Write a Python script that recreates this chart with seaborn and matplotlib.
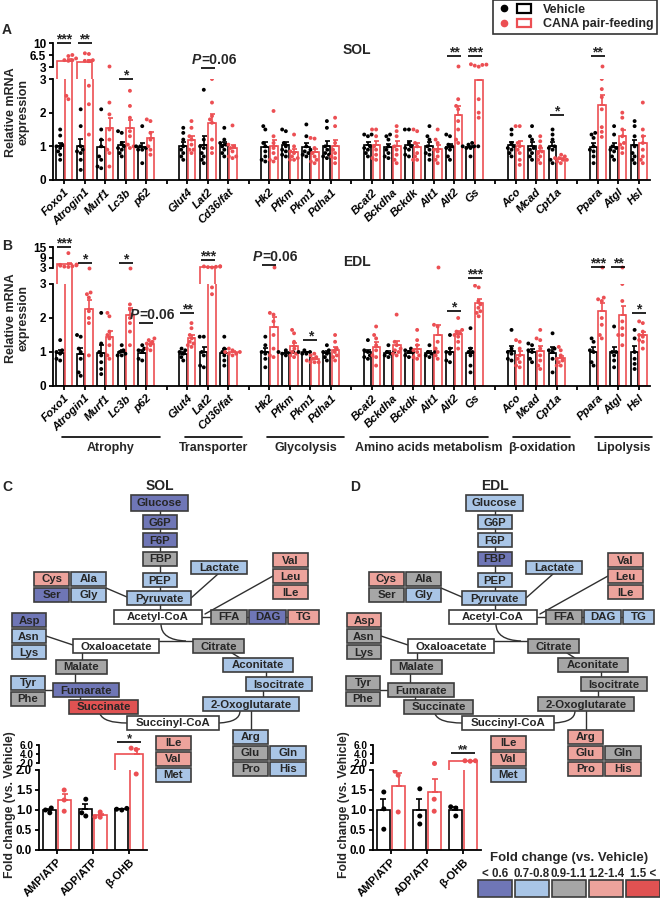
import matplotlib
matplotlib.use("Agg")
import matplotlib.pyplot as plt
import matplotlib.transforms as mtrans
from matplotlib.patches import Rectangle, PathPatch
from matplotlib.path import Path
from matplotlib.lines import Line2D
from matplotlib.legend_handler import HandlerTuple
import pandas as pd
import seaborn as sns

# ---------------------------------------------------------------- data
GROUPS = ["Vehicle", "CANA pair-feeding"]

CATEGORY_NAMES = ["Atrophy", "Transporter", "Glycolysis",
                  "Amino acids metabolism", "β-oxidation", "Lipolysis"]
CATEGORY_GENES = [["Foxo1", "Atrogin1", "Murf1", "Lc3b", "p62"],
                  ["Glut4", "Lat2", "Cd36/fat"],
                  ["Hk2", "Pfkm", "Pkm1", "Pdha1"],
                  ["Bcat2", "Bckdha", "Bckdk", "Alt1", "Alt2", "Gs"],
                  ["Aco", "Mcad", "Cpt1a"],
                  ["Ppara", "Atgl", "Hsl"]]
GENES = [g for grp in CATEGORY_GENES for g in grp]

sol_vehicle_pts = [
    [1.5, 1.32, 1.05, 1.0, 0.95, 0.85, 0.75, 0.6],
    [2.1, 1.6, 1.0, 0.9, 0.85, 0.8, 0.6, 0.3],
    [2.1, 1.5, 1.2, 1.0, 0.7, 0.6, 0.4, 0.35],
    [1.45, 1.4, 1.1, 1.0, 0.95, 0.9, 0.8, 0.7],
    [1.6, 1.0, 1.0, 0.95, 0.9, 0.9, 0.5],
    [1.55, 1.4, 1.2, 1.0, 0.9, 0.8, 0.7, 0.6],
    [2.68, 1.2, 1.0, 0.95, 0.8, 0.7, 0.6, 0.5],
    [1.55, 1.2, 1.1, 1.05, 1.0, 0.9, 0.8, 0.7],
    [1.6, 1.5, 1.1, 1.0, 0.85, 0.7, 0.6, 0.55],
    [1.5, 1.45, 1.1, 1.0, 0.9, 0.85, 0.75, 0.7],
    [1.65, 1.3, 1.0, 0.9, 0.85, 0.8, 0.75, 0.7],
    [1.75, 1.55, 1.0, 0.9, 0.8, 0.75, 0.7, 0.65],
    [1.35, 1.35, 1.3, 1.0, 0.95, 0.9, 0.8, 0.7],
    [1.35, 1.3, 1.2, 1.0, 0.9, 0.8, 0.7, 0.65],
    [1.5, 1.5, 1.1, 1.0, 0.95, 0.9, 0.75, 0.7],
    [1.6, 1.3, 1.2, 1.0, 0.9, 0.8, 0.75, 0.6],
    [1.35, 1.3, 1.05, 1.0, 0.95, 0.9, 0.7, 0.6],
    [1.1, 1.05, 1.0, 1.0, 1.0, 0.95, 0.95, 0.7],
    [1.5, 1.35, 1.1, 1.0, 0.95, 0.9, 0.8, 0.7],
    [1.6, 1.3, 1.2, 0.95, 0.9, 0.8, 0.7, 0.6],
    [1.5, 1.35, 1.2, 1.0, 0.95, 0.9, 0.6, 0.5],
    [1.4, 1.35, 1.25, 1.0, 0.9, 0.85, 0.7, 0.5],
    [1.6, 1.35, 1.0, 0.95, 0.9, 0.85, 0.7, 0.6],
    [1.75, 1.6, 1.3, 1.0, 0.8, 0.7, 0.6, 0.5],
]
sol_cana_pts = [
    [6.5, 6.2, 5.5, 5.0, 5.0, 4.8, 2.5, 2.4],
    [7.0, 6.8, 5.0, 4.8, 4.7, 2.8, 2.25, 1.35],
    [3.2, 2.3, 1.95, 1.5, 1.2, 0.9, 0.8, 0.4],
    [2.65, 2.2, 1.85, 1.45, 1.3, 1.05, 1.0, 0.95],
    [1.8, 1.75, 1.4, 1.2, 1.0, 0.9, 0.75],
    [1.75, 1.55, 1.3, 1.2, 1.05, 0.9, 0.9, 0.8],
    [3.0, 2.3, 1.9, 1.8, 1.7, 1.2, 0.95, 0.8],
    [1.62, 1.05, 1.0, 0.95, 0.85, 0.7, 0.65, 0.7],
    [2.05, 1.3, 1.1, 0.95, 0.8, 0.65, 0.6, 0.55],
    [1.35, 1.0, 0.85, 0.8, 0.7, 0.65, 0.6, 0.6],
    [1.25, 1.23, 0.95, 0.8, 0.7, 0.6, 0.55, 0.5],
    [1.85, 1.6, 1.1, 0.9, 0.8, 0.7, 0.65, 0.5],
    [1.5, 1.5, 1.3, 1.0, 0.9, 0.75, 0.65, 0.6],
    [1.6, 1.45, 1.3, 1.0, 0.9, 0.75, 0.6, 0.5],
    [1.5, 1.45, 1.1, 1.0, 0.8, 0.7, 0.6, 0.6],
    [1.5, 1.2, 1.1, 0.9, 0.85, 0.7, 0.6, 0.5],
    [3.3, 2.4, 2.2, 2.1, 1.75, 1.5, 1.2, 1.1],
    [3.8, 3.7, 3.6, 3.4, 3.1, 2.4, 2.0, 1.85],
    [1.6, 1.6, 1.1, 1.0, 0.9, 0.8, 0.6, 0.45],
    [1.3, 1.15, 1.0, 0.85, 0.8, 0.7, 0.6, 0.5],
    [0.75, 0.7, 0.65, 0.65, 0.6, 0.6, 0.55, 0.5],
    [3.4, 3.0, 2.7, 2.46, 2.1, 1.57, 1.43, 1.28],
    [2.0, 1.85, 1.5, 1.3, 1.1, 1.05, 0.95, 0.8],
    [2.3, 1.5, 1.3, 1.1, 0.9, 0.7, 0.6, 0.5],
]
edl_vehicle_pts = [
    [1.35, 1.05, 1.0, 0.95, 0.8, 0.75],
    [1.5, 1.45, 1.1, 1.0, 0.8, 0.4, 0.3],
    [2.15, 1.25, 1.0, 0.9, 0.7, 0.5, 0.35],
    [1.2, 1.05, 1.0, 0.95, 0.9, 0.9],
    [1.2, 1.1, 1.05, 1.0, 0.8, 0.75],
    [1.1, 1.05, 1.0, 0.95, 0.85, 0.75],
    [1.45, 1.45, 1.0, 0.9, 0.6, 0.55],
    [1.45, 1.1, 1.0, 0.9, 0.75, 0.6],
    [1.45, 1.2, 1.0, 0.95, 0.8, 0.55],
    [1.05, 1.0, 1.0, 0.95, 0.95, 0.9],
    [1.05, 1.0, 1.0, 0.95, 0.95],
    [1.2, 1.05, 1.0, 0.95, 0.85, 0.75],
    [1.35, 1.05, 1.0, 0.9, 0.85, 0.8],
    [1.2, 1.0, 1.0, 0.95, 0.9, 0.85],
    [1.1, 1.05, 1.0, 1.0, 0.9, 0.85],
    [1.2, 1.0, 1.0, 0.95, 0.9, 0.85],
    [1.5, 1.1, 1.0, 0.95, 0.75, 0.7],
    [1.7, 1.1, 1.0, 1.0, 0.9, 0.6, 0.4],
    [1.65, 1.1, 1.0, 0.95, 0.8, 0.75],
    [1.25, 1.2, 1.05, 1.0, 0.8, 0.7],
    [1.55, 1.1, 1.05, 1.0, 0.8, 0.4],
    [1.4, 1.3, 1.05, 1.0, 0.7, 0.6],
    [1.75, 1.0, 1.0, 0.9, 0.75, 0.55],
    [1.65, 1.4, 1.0, 0.8, 0.65, 0.5],
]
edl_cana_pts = [
    [11.5, 5.0, 4.8, 4.5, 4.3, 4.0, 3.8, 3.6],
    [3.2, 2.75, 2.7, 2.6, 2.2, 2.0, 1.85, 0.9],
    [2.15, 2.05, 1.6, 1.5, 1.4, 1.2, 0.9, 0.8],
    [3.2, 2.4, 2.25, 2.1, 2.0, 1.85, 1.6, 1.2],
    [1.4, 1.35, 1.3, 1.25, 1.2, 1.1, 1.05],
    [1.85, 1.7, 1.5, 1.4, 1.3, 1.2, 1.15, 1.25],
    [4.0, 3.9, 3.8, 3.7, 3.5, 3.3, 2.9, 2.7],
    [1.1, 1.05, 1.0, 1.0, 0.95, 0.95, 0.9],
    [3.3, 2.15, 2.1, 1.9, 1.5, 1.1, 0.9, 0.85],
    [1.65, 1.55, 1.3, 1.1, 1.0, 0.95, 0.85, 0.9],
    [0.95, 0.9, 0.85, 0.8, 0.75, 0.7, 0.7, 0.7],
    [1.5, 1.3, 1.1, 1.0, 0.9, 0.85, 0.75],
    [1.75, 1.5, 1.4, 1.2, 1.05, 0.9, 0.85, 0.6],
    [2.1, 1.3, 1.2, 1.1, 1.05, 1.0, 0.9, 0.95],
    [1.65, 1.35, 1.2, 1.05, 1.0, 0.9, 0.8, 0.85],
    [3.3, 1.8, 1.75, 1.3, 1.1, 1.0, 0.9, 0.8],
    [2.0, 1.65, 1.6, 1.55, 1.5, 1.45, 1.3, 1.1],
    [2.95, 2.9, 2.5, 2.4, 2.3, 2.2, 2.15, 2.05],
    [1.35, 1.3, 1.1, 0.9, 0.8, 0.7, 0.6, 0.55],
    [1.65, 1.4, 1.35, 1.1, 0.9, 0.75, 0.6, 0.5],
    [1.15, 1.05, 0.9, 0.8, 0.75, 0.7, 0.6, 0.6],
    [3.3, 2.6, 2.55, 2.5, 2.0, 1.8, 1.5, 1.4],
    [3.35, 3.0, 2.5, 1.9, 1.7, 1.5, 1.5, 1.2],
    [1.9, 1.85, 1.6, 1.5, 1.45, 1.35, 1.3, 1.1],
]
# significance marks: (gene, label, y level in data units, 'lo'/'hi' axis)
sol_sig = [("Foxo1", "***", 10.0, "hi"), ("Atrogin1", "**", 10.0, "hi"),
           ("Lc3b", "*", 3.0, "lo"), ("Lat2", "P=0.06", 2.7, "hi"),
           ("Alt2", "**", 6.2, "hi"), ("Gs", "***", 6.2, "hi"),
           ("Cpt1a", "*", 1.93, "lo"), ("Ppara", "**", 6.2, "hi")]
edl_sig = [("Foxo1", "***", 15.0, "hi"), ("Atrogin1", "*", 5.9, "hi"),
           ("Lc3b", "*", 5.9, "hi"), ("p62", "P=0.06", 1.85, "lo"),
           ("Glut4", "**", 2.15, "lo"), ("Lat2", "***", 7.6, "hi"),
           ("Hk2", "P=0.06", 4.7, "hi"), ("Pkm1", "*", 1.35, "lo"),
           ("Alt2", "*", 2.2, "lo"), ("Gs", "***", 3.18, "lo"),
           ("Ppara", "***", 3.45, "hi"), ("Atgl", "**", 3.45, "hi"),
           ("Hsl", "*", 2.15, "lo")]

ENERGY_ITEMS = ["AMP/ATP", "ADP/ATP", "β-OHB"]
sol_energy_vehicle = [[1.05, 0.93, 1.0], [1.27, 0.93, 0.85], [1.0, 1.02, 1.04]]
sol_energy_cana = [[1.5, 1.25, 0.97], [0.95, 0.83, 0.82], [5.3, 5.0, 1.9]]
edl_energy_vehicle = [[1.45, 1.03, 0.52], [1.53, 0.85, 0.65], [1.08, 1.05, 0.85]]
edl_energy_cana = [[1.97, 1.87, 0.95], [2.1, 1.27, 0.97], [2.4, 2.5, 2.5]]
sol_energy_sig = [("β-OHB", "*", 6.67)]
edl_energy_sig = [("β-OHB", "**", 4.2)]

METABOLITES = ["Glucose", "G6P", "F6P", "FBP", "PEP", "Lactate", "Val", "Leu", "ILe",
               "Cys", "Ala", "Ser", "Gly", "Pyruvate", "Acetyl-CoA", "FFA", "DAG", "TG",
               "Asp", "Asn", "Lys", "Oxaloacetate", "Citrate", "Malate", "Aconitate",
               "Tyr", "Phe", "Fumarate", "Isocitrate", "Succinate", "2-Oxoglutarate",
               "Succinyl-CoA", "ILe", "Val", "Met", "Arg", "Glu", "Gln", "Pro", "His"]
# fold-change class: 0 <0.6, 1 0.7-0.8, 2 0.9-1.1, 3 1.2-1.4, 4 1.5<, None = not measured
sol_fc_class = [0, 0, 0, 2, 1, 1, 3, 3, 3, 3, 1, 0, 1, 1, None, 2, 0, 3, 0, 1, 1, None,
                2, 2, 1, 1, 2, 0, 1, 4, 1, None, 3, 3, 1, 1, 2, 1, 2, 1]
edl_fc_class = [1, 1, 1, 0, 1, 1, 3, 3, 3, 3, 2, 2, 1, 1, None, 2, 1, 1, 3, 2, 2, None,
                2, 2, 2, 2, 2, 2, 2, 2, 2, None, 3, 3, 1, 3, 3, 2, 3, 3]
FC_BINS = ["< 0.6", "0.7-0.8", "0.9-1.1", "1.2-1.4", "1.5 <"]

# ---------------------------------------------------------------- style
FC_COLORS = ["#6f76b6", "#a9c5e6", "#a6a6a6", "#eda39c", "#e05252"]
PALETTE = {GROUPS[0]: "#000000", GROUPS[1]: "#ec4f53"}
BOX_EDGE = "#3c3c3c"
BOLD = "bold"

sns.set_theme(style="ticks", rc={
    "axes.facecolor": "none", "axes.edgecolor": "black", "axes.linewidth": 1.3,
    "xtick.color": "black", "ytick.color": "black",
    "xtick.major.width": 1.3, "ytick.major.width": 1.3,
    "xtick.major.size": 3, "ytick.major.size": 3,
    "xtick.major.pad": 2, "ytick.major.pad": 2})
plt.rcParams["font.family"] = ["Liberation Sans", "DejaVu Sans"]
plt.rcParams["font.weight"] = "bold"
plt.rcParams["axes.labelweight"] = "bold"

W, H = 660, 900
fig = plt.figure(figsize=(6.6, 9.0), dpi=100, facecolor="white")


def px_rect(x0, y0, x1, y1):
    return [x0 / W, 1 - y1 / H, (x1 - x0) / W, (y1 - y0) / H]


def long_df(items, veh, cana):
    rows = []
    for item, v, c in zip(items, veh, cana):
        rows += [(item, GROUPS[0], x) for x in v]
        rows += [(item, GROUPS[1], x) for x in c]
    return pd.DataFrame(rows, columns=["item", "group", "value"])


ORDER = []
for i, grp in enumerate(CATEGORY_GENES):
    if i:
        ORDER.append(f"_gap{i}")
    ORDER.extend(grp)


def draw_layer(ax, bdata, pdata, order, width, gap, lw, cap, msize):
    sns.barplot(data=bdata, x="item", y="value", hue="group", order=order,
                hue_order=GROUPS, palette=PALETTE, errorbar=None, width=width,
                gap=gap, fill=False, linewidth=lw, legend=False, ax=ax)
    for p in ax.patches:
        p.set_fill(True)
        p.set_facecolor("white")
        p.set_zorder(1)
    summ = (bdata.groupby(["item", "group"], sort=False)["value"]
            .agg(["mean", "sem"]).reset_index())
    for r in summ.itertuples(index=False):
        off = -width / 4 if r.group == GROUPS[0] else width / 4
        ax.errorbar(order.index(r.item) + off, r.mean, yerr=[[0], [r.sem]],
                    fmt="none", ecolor=PALETTE[r.group], elinewidth=lw,
                    capsize=cap, capthick=lw, zorder=2)
    sns.swarmplot(data=pdata, x="item", y="value", hue="group", order=order,
                  hue_order=GROUPS, palette=PALETTE, dodge=True, size=msize,
                  legend=False, ax=ax, warn_thresh=1, zorder=3, linewidth=0)
    ax.set_xlabel("")
    ax.set_ylabel("")


def broken_plot(lo, hi, df, order, thr, lo_top, hi_lim, xlim,
                width, gap, lw, cap, msize):
    gm = df.groupby(["item", "group"])["value"].transform("mean")
    draw_layer(lo, df, df, order, width, gap, lw, cap, msize)
    draw_layer(hi, df[gm > thr], df[df["value"] > thr], order, width, gap, lw, cap, msize)
    for ax in (lo, hi):
        ax.set_xlim(*xlim)
    lo.set_ylim(0, lo_top)
    hi.set_ylim(*hi_lim)
    y0 = hi_lim[0] - 1
    for p in hi.patches:
        top = p.get_y() + p.get_height()
        p.set_y(y0)
        p.set_height(top - y0)
    sns.despine(ax=lo)
    sns.despine(ax=hi, bottom=True)
    hi.tick_params(axis="x", bottom=False, labelbottom=False)
    hi.spines["left"].set_bounds(thr, hi_lim[1])


def add_sig(ax, x, y, label, half=0.34, fs=10):
    ax.plot([x - half, x + half], [y, y], color="black", lw=1.2,
            clip_on=False, zorder=5, solid_capstyle="butt")
    if label.startswith("P="):
        ax.annotate("P", (x, y), xytext=(-5, 0.5), textcoords="offset points",
                    ha="right", va="bottom", fontsize=fs, fontstyle="italic",
                    fontweight=BOLD, annotation_clip=False)
        ax.annotate(label[1:], (x, y), xytext=(-5, 0.5), textcoords="offset points",
                    ha="left", va="bottom", fontsize=fs, fontweight=BOLD,
                    annotation_clip=False)
    else:
        ax.annotate(label, (x, y), xytext=(0, -2.5), textcoords="offset points",
                    ha="center", va="bottom", fontsize=fs, fontweight=BOLD,
                    annotation_clip=False)


def gene_panel(lo_box, hi_box, veh, cana, thr, hi_lim, hi_ticks, hi_labels, sigs):
    lo = fig.add_axes(px_rect(*lo_box))
    hi = fig.add_axes(px_rect(*hi_box))
    df = long_df(GENES, veh, cana)
    broken_plot(lo, hi, df, ORDER, thr, 3, hi_lim, (-0.55, len(ORDER) - 0.45),
                0.84, 0.12, 1.2, 1.8, 2.8)
    lo.set_yticks([0, 1, 2, 3])
    lo.set_yticklabels(["0", "1", "2", "3"], fontsize=8.5, fontweight=BOLD)
    hi.set_yticks(hi_ticks)
    hi.set_yticklabels(hi_labels, fontsize=8.5, fontweight=BOLD)
    lo.set_xticks(range(len(ORDER)))
    lo.set_xticklabels(["" if s.startswith("_") else s for s in ORDER], rotation=45,
                       ha="right", rotation_mode="anchor", fontsize=8.2,
                       fontstyle="italic", fontweight=BOLD)
    for gene, label, y, which in sigs:
        add_sig(lo if which == "lo" else hi, ORDER.index(gene), y, label)
    return lo, hi


# ---------------------------------------------------------------- panel A / B
loA, hiA = gene_panel((53, 79, 650, 180), (53, 43, 650, 79), sol_vehicle_pts,
                      sol_cana_pts, 3, (-0.5, 10), [3, 6.5, 10], ["3", "6.5", "10"],
                      sol_sig)
loB, hiB = gene_panel((53, 284, 650, 386), (53, 247, 650, 284), edl_vehicle_pts,
                      edl_cana_pts, 3, (3 - 16 * 12 / 21, 15), [3, 9, 15],
                      ["3", "9", "15"], edl_sig)

trB = mtrans.blended_transform_factory(loB.transData, fig.transFigure)
for name, grp in zip(CATEGORY_NAMES, CATEGORY_GENES):
    i0, i1 = ORDER.index(grp[0]) - 0.12, ORDER.index(grp[-1]) + 0.65
    loB.plot([i0, i1], [1 - 437 / H] * 2, transform=trB, clip_on=False,
             color="black", lw=1.2)
    loB.text((i0 + i1) / 2, 1 - 448 / H, name, transform=trB, ha="center",
             va="center", fontsize=9, fontweight=BOLD)

# ---------------------------------------------------------------- energy bars
def energy_panel(x0, veh, cana, sigs):
    lo = fig.add_axes(px_rect(x0, 770, x0 + 108, 850))
    hi = fig.add_axes(px_rect(x0, 745, x0 + 108, 770))
    df = long_df(ENERGY_ITEMS, veh, cana)
    broken_plot(lo, hi, df, ENERGY_ITEMS, 2, 2, (2 - 7 * 4 / 18, 6), (-0.5, 2.5),
                0.84, 0.1, 1.2, 2.2, 3.6)
    lo.set_yticks([0, 0.5, 1, 1.5, 2])
    lo.set_yticklabels(["0.0", "0.5", "1.0", "1.5", "2.0"], fontsize=8.3,
                       fontweight=BOLD)
    hi.set_yticks([2, 4, 6])
    hi.set_yticklabels(["2.0", "4.0", "6.0"], fontsize=7.2, fontweight=BOLD)
    hi.tick_params(axis="y", pad=1.5, length=2.5)
    lo.set_xticks(range(len(ENERGY_ITEMS)))
    lo.set_xticklabels(ENERGY_ITEMS, rotation=45, ha="right",
                       rotation_mode="anchor", fontsize=8, fontweight=BOLD)
    for item, label, y in sigs:
        add_sig(hi, ENERGY_ITEMS.index(item), y, label, half=0.33, fs=9.5)


energy_panel(39, sol_energy_vehicle, sol_energy_cana, sol_energy_sig)
energy_panel(373, edl_energy_vehicle, edl_energy_cana, edl_energy_sig)

# ---------------------------------------------------------------- overlay (diagram)
ov = fig.add_axes([0, 0, 1, 1])
ov.set_xlim(0, W)
ov.set_ylim(H, 0)
ov.axis("off")

BOX_LAYOUT = [(131, 495, 57, 16), (143, 515, 34, 14), (143, 533, 34, 14),
              (143, 552, 34, 14), (143, 573, 34, 14), (191, 561, 56, 13),
              (273, 553, 35, 14), (273, 569, 35, 14), (273, 585, 35, 14),
              (34, 572, 35, 14), (71, 572, 35, 14), (34, 588, 35, 14),
              (71, 588, 35, 14), (127, 591, 64, 14), (114, 610, 88, 14),
              (211, 610, 36, 14), (249, 610, 37, 14), (288, 610, 31, 14),
              (12, 613, 34, 14), (12, 629, 34, 14), (12, 645, 34, 14),
              (73, 639, 86, 14), (193, 639, 51, 14), (56, 660, 51, 14),
              (223, 658, 70, 14), (11, 676, 34, 14), (11, 692, 34, 14),
              (53, 683, 66, 14), (246, 677, 66, 14), (69, 700, 69, 14),
              (203, 697, 96, 14), (127, 716, 92, 14), (156, 736, 35, 14),
              (156, 752, 35, 14), (156, 768, 35, 14), (233, 730, 35, 14),
              (233, 746, 35, 14), (270, 746, 36, 14), (233, 762, 35, 14),
              (270, 762, 36, 14)]
PATH_LINES = [[(160, 505), (160, 615)], [(218, 574), (191, 598)],
              [(106, 588), (127, 597)], [(273, 576), (205, 614)],
              [(202, 617), (211, 617)], [(247, 617), (249, 617)],
              [(286, 617), (288, 617)], [(159, 641), (193, 641)],
              [(46, 636), (73, 645)], [(82, 653), (82, 660)],
              [(75, 674), (75, 683)], [(45, 690), (53, 690)],
              [(80, 697), (80, 700)], [(263, 697), (263, 691)],
              [(266, 677), (266, 672)], [(240, 658), (232, 653)],
              [(251, 711), (251, 730)]]
PATH_CURVES = [[(161, 624), (161, 640), (186, 641)],
               [(100, 714), (104, 723), (127, 723)],
               [(219, 723), (240, 722), (240, 711)]]


def pathway(dx, classes, title, letter, letter_x):
    for seg in PATH_LINES:
        ov.plot([p[0] + dx for p in seg], [p[1] for p in seg], color="#303030",
                lw=1.0, zorder=1)
    for c in PATH_CURVES:
        verts = [(x + dx, y) for x, y in c]
        ov.add_patch(PathPatch(Path(verts, [Path.MOVETO, Path.CURVE3, Path.CURVE3]),
                               fc="none", ec="#303030", lw=1.0, zorder=1))
    for name, cls, (x, y, w, h) in zip(METABOLITES, classes, BOX_LAYOUT):
        fc = "white" if cls is None else FC_COLORS[cls]
        ov.add_patch(Rectangle((x + dx, y), w, h, fc=fc, ec=BOX_EDGE, lw=1.2, zorder=2))
        ov.text(x + dx + w / 2, y + h / 2 + 0.5, name, ha="center", va="center",
                fontsize=8.2, fontweight=BOLD, zorder=3)
    ov.text(160 + dx, 486, title, ha="center", va="center", fontsize=10,
            fontweight=BOLD)
    ov.text(letter_x, 487, letter, ha="center", va="center", fontsize=10,
            fontweight=BOLD)


pathway(0, sol_fc_class, "SOL", "C", 7)
pathway(335, edl_fc_class, "EDL", "D", 355)

# fold-change legend
ov.text(569, 858, "Fold change (vs. Vehicle)", ha="center", va="center",
        fontsize=9.5, fontweight=BOLD)
for i, (lab, col) in enumerate(zip(FC_BINS, FC_COLORS)):
    x0 = 478 + i * 37
    ov.add_patch(Rectangle((x0, 880), 34, 17, fc=col, ec=BOX_EDGE, lw=1.2))
    ov.text(x0 + 17, 874, lab, ha="center", va="center", fontsize=8.3,
            fontweight=BOLD)

# titles, letters, axis labels
ov.text(7, 30, "A", ha="center", va="center", fontsize=10, fontweight=BOLD)
ov.text(7, 246, "B", ha="center", va="center", fontsize=10, fontweight=BOLD)
ov.text(357, 50, "SOL", ha="center", va="center", fontsize=10, fontweight=BOLD)
ov.text(357, 262, "EDL", ha="center", va="center", fontsize=10, fontweight=BOLD)
for yc in (112, 318):
    ov.text(17, yc, "Relative mRNA\nexpression", rotation=90, ha="center",
            va="center", fontsize=9, linespacing=1.05, fontweight=BOLD)
for xc in (10, 344):
    ov.text(xc, 805, "Fold change (vs. Vehicle)", rotation=90, ha="center",
            va="center", fontsize=8.8, fontweight=BOLD)

# group legend
handles = [(Line2D([], [], marker="o", ls="", color=PALETTE[g], ms=4.5),
            Rectangle((0, 0), 1, 1, fc="white", ec=PALETTE[g], lw=1.6)) for g in GROUPS]
leg = fig.legend(handles=handles, labels=GROUPS,
                 handler_map={tuple: HandlerTuple(ndivide=None, pad=0.5)},
                 loc="upper right", bbox_to_anchor=(657 / W, 1.0), frameon=True,
                 fancybox=False, edgecolor="black", handlelength=2.8,
                 borderpad=0.3, labelspacing=0.2, handletextpad=0.9,
                 borderaxespad=0.0, prop={"size": 9, "weight": "bold"})
leg.get_frame().set_linewidth(1.2)

fig.savefig("out.png", dpi=100, facecolor="white")
